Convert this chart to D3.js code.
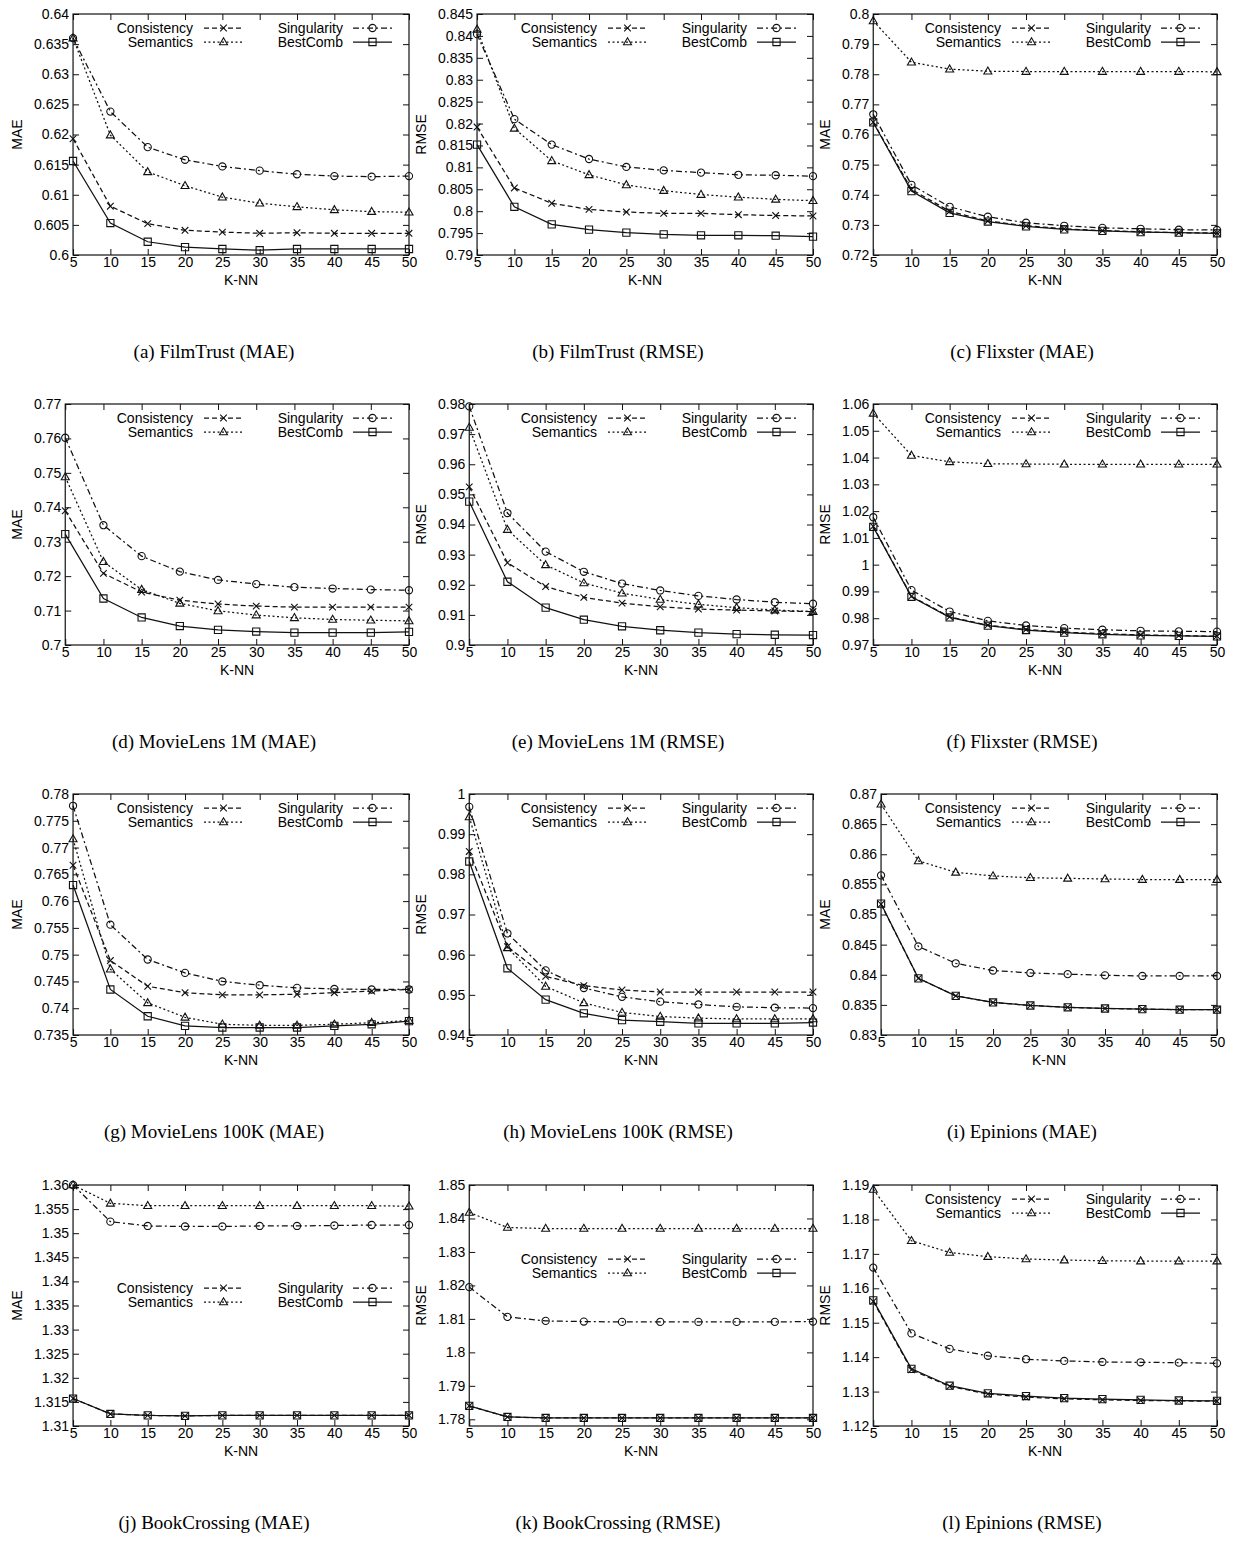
<!DOCTYPE html>
<html>
<head>
<meta charset="utf-8">
<script src="https://cdn.jsdelivr.net/npm/d3@7"></script>
<style>
    body { margin: 0; background: #fff; }
    svg text { font-family: "Liberation Sans", Arial, Helvetica, sans-serif; fill: #000; }
    svg text.caption { font-family: "Liberation Serif", "Times New Roman", serif; }
</style>
</head>
<body>
<div id="chart"></div>
<script>
var kValues = [5, 10, 15, 20, 25, 30, 35, 40, 45, 50];
var seriesNames = ['Consistency', 'Semantics', 'Singularity', 'BestComb'];

// rows: Consistency, Semantics, Singularity, BestComb
var filmTrustMAE = [
    [0.6193, 0.6081, 0.6052, 0.6041, 0.6038, 0.6036, 0.6037, 0.6036, 0.6036, 0.6036],
    [0.636, 0.6199, 0.6138, 0.6115, 0.6096, 0.6086, 0.608, 0.6075, 0.6072, 0.6071],
    [0.636, 0.6238, 0.6179, 0.6158, 0.6147, 0.614, 0.6134, 0.6131, 0.613, 0.6131],
    [0.6156, 0.6053, 0.6022, 0.6013, 0.601, 0.6008, 0.601, 0.601, 0.601, 0.601]
];
var filmTrustRMSE = [
    [0.8192, 0.8053, 0.8018, 0.8004, 0.7998, 0.7995, 0.7995, 0.7992, 0.799, 0.7989],
    [0.8415, 0.8189, 0.8115, 0.8083, 0.806, 0.8047, 0.8038, 0.8032, 0.8027, 0.8024],
    [0.8404, 0.821, 0.8152, 0.8119, 0.8101, 0.8093, 0.8088, 0.8083, 0.8082, 0.808],
    [0.8152, 0.801, 0.797, 0.7958, 0.7951, 0.7947, 0.7945, 0.7945, 0.7944, 0.7942]
];
var flixsterMAE = [
    [0.7641, 0.7418, 0.7345, 0.7313, 0.7297, 0.7287, 0.7281, 0.7277, 0.7274, 0.7273],
    [0.7977, 0.784, 0.7817, 0.781, 0.7809, 0.7809, 0.7809, 0.7809, 0.7809, 0.7808],
    [0.7667, 0.7433, 0.736, 0.7327, 0.7307, 0.7297, 0.729, 0.7287, 0.7284, 0.7283],
    [0.764, 0.7412, 0.734, 0.7311, 0.7295, 0.7285, 0.728, 0.7276, 0.7274, 0.7272]
];
var movieLens1mMAE = [
    [0.739, 0.7208, 0.7154, 0.713, 0.7119, 0.7113, 0.711, 0.711, 0.711, 0.711],
    [0.7488, 0.7242, 0.7161, 0.7121, 0.7099, 0.7087, 0.7079, 0.7074, 0.7072, 0.707],
    [0.7602, 0.7348, 0.7258, 0.7213, 0.7189, 0.7177, 0.7168, 0.7164, 0.7161, 0.7159],
    [0.7322, 0.7135, 0.708, 0.7055, 0.7044, 0.7039, 0.7036, 0.7036, 0.7036, 0.7038]
];
var movieLens1mRMSE = [
    [0.9525, 0.9273, 0.9194, 0.9158, 0.9139, 0.9127, 0.9119, 0.9116, 0.9113, 0.9111],
    [0.9722, 0.9383, 0.9266, 0.9206, 0.9172, 0.9151, 0.9135, 0.9124, 0.9116, 0.9111],
    [0.9792, 0.9438, 0.931, 0.9243, 0.9204, 0.9181, 0.9163, 0.9151, 0.9142, 0.9137],
    [0.9476, 0.921, 0.9124, 0.9084, 0.9062, 0.9049, 0.9041, 0.9036, 0.9034, 0.9033]
];
var flixsterRMSE = [
    [1.0143, 0.9882, 0.9805, 0.9774, 0.9758, 0.9748, 0.9742, 0.9738, 0.9735, 0.9733],
    [1.0565, 1.0408, 1.0384, 1.0377, 1.0376, 1.0375, 1.0375, 1.0375, 1.0375, 1.0375],
    [1.0177, 0.9905, 0.9825, 0.979, 0.9773, 0.9763, 0.9757, 0.9753, 0.9751, 0.975],
    [1.0141, 0.988, 0.9803, 0.9772, 0.9756, 0.9746, 0.974, 0.9736, 0.9734, 0.9732]
];
var movieLens100kMAE = [
    [0.7667, 0.7489, 0.7441, 0.7429, 0.7425, 0.7425, 0.7426, 0.7429, 0.7432, 0.7435],
    [0.7716, 0.7473, 0.741, 0.7383, 0.737, 0.7368, 0.7368, 0.737, 0.7373, 0.7377],
    [0.7778, 0.7556, 0.7491, 0.7466, 0.745, 0.7443, 0.7438, 0.7436, 0.7435, 0.7435],
    [0.763, 0.7435, 0.7385, 0.7367, 0.7364, 0.7364, 0.7364, 0.7367, 0.737, 0.7376]
];
var movieLens100kRMSE = [
    [0.9857, 0.962, 0.9546, 0.9523, 0.9512, 0.9507, 0.9507, 0.9507, 0.9507, 0.9507],
    [0.9943, 0.9617, 0.9521, 0.948, 0.9456, 0.9446, 0.9442, 0.944, 0.944, 0.944],
    [0.9968, 0.9653, 0.9561, 0.9517, 0.9495, 0.9483, 0.9476, 0.947, 0.9468, 0.9467],
    [0.9832, 0.9566, 0.9488, 0.9454, 0.9437, 0.9433, 0.9429, 0.9429, 0.9429, 0.9431]
];
var epinionsMAE = [
    [0.8517, 0.8394, 0.8365, 0.8354, 0.8349, 0.8346, 0.8344, 0.8343, 0.8342, 0.8342],
    [0.8683, 0.8589, 0.857, 0.8564, 0.8561, 0.856, 0.8559, 0.8558, 0.8558, 0.8558],
    [0.8565, 0.8447, 0.8419, 0.8407, 0.8403, 0.8401, 0.8399, 0.8398, 0.8398, 0.8398],
    [0.8518, 0.8394, 0.8365, 0.8354, 0.8349, 0.8346, 0.8344, 0.8343, 0.8342, 0.8342]
];
var bookCrossingMAE = [
    [1.3157, 1.3125, 1.3122, 1.3121, 1.3122, 1.3122, 1.3122, 1.3122, 1.3122, 1.3122],
    [1.36, 1.3562, 1.3557, 1.3557, 1.3557, 1.3557, 1.3557, 1.3557, 1.3557, 1.3556],
    [1.36, 1.3524, 1.3515, 1.3514, 1.3514, 1.3515, 1.3515, 1.3516, 1.3517, 1.3517],
    [1.3157, 1.3125, 1.3122, 1.3121, 1.3122, 1.3122, 1.3122, 1.3122, 1.3122, 1.3122]
];
var bookCrossingRMSE = [
    [1.784, 1.7807, 1.7804, 1.7804, 1.7804, 1.7804, 1.7804, 1.7804, 1.7804, 1.7804],
    [1.8418, 1.8373, 1.837, 1.837, 1.837, 1.837, 1.837, 1.837, 1.837, 1.837],
    [1.8195, 1.8106, 1.8094, 1.8092, 1.8091, 1.8091, 1.8091, 1.8091, 1.8091, 1.8092],
    [1.784, 1.7807, 1.7804, 1.7804, 1.7804, 1.7804, 1.7804, 1.7804, 1.7804, 1.7804]
];
var epinionsRMSE = [
    [1.1562, 1.1363, 1.1315, 1.1293, 1.1284, 1.1279, 1.1276, 1.1274, 1.1273, 1.1272],
    [1.1887, 1.1738, 1.1704, 1.1692, 1.1685, 1.1682, 1.168, 1.1679, 1.1679, 1.1679],
    [1.166, 1.1469, 1.1424, 1.1404, 1.1394, 1.1389, 1.1386, 1.1385, 1.1384, 1.1382],
    [1.1565, 1.1366, 1.1317, 1.1295, 1.1287, 1.1281, 1.1278, 1.1276, 1.1274, 1.1273]
];

var panelData = [filmTrustMAE, filmTrustRMSE, flixsterMAE,
    movieLens1mMAE, movieLens1mRMSE, flixsterRMSE,
    movieLens100kMAE, movieLens100kRMSE, epinionsMAE,
    bookCrossingMAE, bookCrossingRMSE, epinionsRMSE];

var panelCaptions = ['(a) FilmTrust (MAE)', '(b) FilmTrust (RMSE)', '(c) Flixster (MAE)',
    '(d) MovieLens 1M (MAE)', '(e) MovieLens 1M (RMSE)', '(f) Flixster (RMSE)',
    '(g) MovieLens 100K (MAE)', '(h) MovieLens 100K (RMSE)', '(i) Epinions (MAE)',
    '(j) BookCrossing (MAE)', '(k) BookCrossing (RMSE)', '(l) Epinions (RMSE)'];

var panelYLabels = ['MAE', 'RMSE', 'MAE', 'MAE', 'RMSE', 'RMSE', 'MAE', 'RMSE', 'MAE', 'MAE', 'RMSE', 'RMSE'];

var panelYDomains = [[0.6, 0.64], [0.79, 0.845], [0.72, 0.8], [0.7, 0.77], [0.9, 0.98], [0.97, 1.06],
    [0.735, 0.78], [0.94, 1], [0.83, 0.87], [1.31, 1.36], [1.778, 1.85], [1.12, 1.19]];

var panelYTicks = [
    [0.6, 0.605, 0.61, 0.615, 0.62, 0.625, 0.63, 0.635, 0.64],
    [0.79, 0.795, 0.8, 0.805, 0.81, 0.815, 0.82, 0.825, 0.83, 0.835, 0.84, 0.845],
    [0.72, 0.73, 0.74, 0.75, 0.76, 0.77, 0.78, 0.79, 0.8],
    [0.7, 0.71, 0.72, 0.73, 0.74, 0.75, 0.76, 0.77],
    [0.9, 0.91, 0.92, 0.93, 0.94, 0.95, 0.96, 0.97, 0.98],
    [0.97, 0.98, 0.99, 1, 1.01, 1.02, 1.03, 1.04, 1.05, 1.06],
    [0.735, 0.74, 0.745, 0.75, 0.755, 0.76, 0.765, 0.77, 0.775, 0.78],
    [0.94, 0.95, 0.96, 0.97, 0.98, 0.99, 1],
    [0.83, 0.835, 0.84, 0.845, 0.85, 0.855, 0.86, 0.865, 0.87],
    [1.31, 1.315, 1.32, 1.325, 1.33, 1.335, 1.34, 1.345, 1.35, 1.355, 1.36],
    [1.78, 1.79, 1.8, 1.81, 1.82, 1.83, 1.84, 1.85],
    [1.12, 1.13, 1.14, 1.15, 1.16, 1.17, 1.18, 1.19]
];

// ---- layout / style ----
var colX = [0, 404, 808];
var rowY = [14, 404, 794, 1185];
var plotH = 241;
var fontSize = 14;
var legendTopOffset = [14, 14, 14, 14, 14, 14, 14, 14, 14, 103, 74, 14];
var dashes = ['5,3', '2,2.5', '6,3,2,3', null];
var markers = ['times', 'triangle', 'circle', 'square'];
var ink = '#111';

var markerPath = function (type, cx, cy) {
    var r = 3.6;
    if (type === 'times') {
        var s = 3.3;
        return 'M' + (cx - s) + ',' + (cy - s) + 'L' + (cx + s) + ',' + (cy + s) +
            'M' + (cx - s) + ',' + (cy + s) + 'L' + (cx + s) + ',' + (cy - s);
    }
    if (type === 'triangle') {
        return 'M' + cx + ',' + (cy - 4.2) + 'L' + (cx + 4) + ',' + (cy + 2.8) +
            'L' + (cx - 4) + ',' + (cy + 2.8) + 'Z';
    }
    if (type === 'square') {
        return 'M' + (cx - r) + ',' + (cy - r) + 'h' + (2 * r) + 'v' + (2 * r) + 'h' + (-2 * r) + 'Z';
    }
    return 'M' + (cx + r) + ',' + cy + 'A' + r + ',' + r + ' 0 1,1 ' + (cx - r) + ',' + cy +
        'A' + r + ',' + r + ' 0 1,1 ' + (cx + r) + ',' + cy + 'Z';
};

var fmt = function (v) { return String(+v.toFixed(3)); };

var svg = d3.select('#chart').append('svg')
    .attr('width', 1236)
    .attr('height', 1545);

panelData.forEach(function (series, i) {
    var col = i % 3, row = Math.floor(i / 3);
    var ox = colX[col], top = rowY[row], bottom = top + plotH;
    var right = ox + 409;

    // measure widest tick label so the axis sits where gnuplot would put it
    var probe = svg.append('text').attr('font-size', fontSize);
    var maxW = 0;
    panelYTicks[i].forEach(function (t) {
        probe.text(fmt(t));
        maxW = Math.max(maxW, probe.node().getComputedTextLength());
    });
    probe.remove();
    var left = ox + 38 + maxW;

    var x = d3.scaleLinear().domain([5, 50]).range([left, right]);
    var y = d3.scaleLinear().domain(panelYDomains[i]).range([bottom, top]);

    var g = svg.append('g');

    var styleAxis = function (sel) {
        sel.select('.domain').remove();
        sel.attr('font-size', fontSize).attr('font-family', null);
        sel.selectAll('line').attr('stroke', ink);
    };

    g.append('g').attr('transform', 'translate(' + left + ',0)')
        .call(d3.axisLeft(y).tickValues(panelYTicks[i]).tickFormat(fmt).tickSize(-6).tickPadding(4))
        .call(styleAxis);
    g.append('g').attr('transform', 'translate(' + right + ',0)')
        .call(d3.axisRight(y).tickValues(panelYTicks[i]).tickFormat('').tickSize(-6))
        .call(styleAxis);
    g.append('g').attr('transform', 'translate(0,' + bottom + ')')
        .call(d3.axisBottom(x).tickValues(kValues).tickFormat(d3.format('d')).tickSize(-6).tickPadding(2))
        .call(styleAxis);
    g.append('g').attr('transform', 'translate(0,' + top + ')')
        .call(d3.axisTop(x).tickValues(kValues).tickFormat('').tickSize(-6))
        .call(styleAxis);

    g.append('rect')
        .attr('x', left).attr('y', top)
        .attr('width', right - left).attr('height', plotH)
        .attr('fill', 'none').attr('stroke', ink).attr('stroke-width', 1.2);

    g.append('text')
        .attr('x', (left + right) / 2).attr('y', bottom + 30)
        .attr('text-anchor', 'middle').attr('font-size', fontSize)
        .text('K-NN');

    g.append('text')
        .attr('transform', 'translate(' + (ox + 22) + ',' + (top + plotH / 2) + ') rotate(-90)')
        .attr('text-anchor', 'middle').attr('font-size', fontSize)
        .text(panelYLabels[i]);

    var line = d3.line()
        .x(function (d, j) { return x(kValues[j]); })
        .y(function (d) { return y(d); });

    series.forEach(function (vals, s) {
        g.append('path')
            .attr('d', line(vals))
            .attr('fill', 'none')
            .attr('stroke', ink)
            .attr('stroke-width', 1.25)
            .attr('stroke-dasharray', dashes[s]);
        g.selectAll(null)
            .data(vals)
            .enter()
            .append('path')
            .attr('d', function (d, j) { return markerPath(markers[s], x(kValues[j]), y(d)); })
            .attr('fill', 'none')
            .attr('stroke', ink)
            .attr('stroke-width', 1.1);
    });

    // legend, two columns
    seriesNames.forEach(function (name, s) {
        var c = s < 2 ? 0 : 1;
        var ly = top + legendTopOffset[i] + (s % 2) * 14;
        var textEnd = right - (c === 0 ? 216 : 66);
        var x1 = right - (c === 0 ? 205 : 56);
        var x2 = right - (c === 0 ? 166 : 17);

        g.append('text')
            .attr('x', textEnd).attr('y', ly).attr('dy', '0.35em')
            .attr('text-anchor', 'end').attr('font-size', fontSize)
            .text(name);
        g.append('line')
            .attr('x1', x1).attr('x2', x2).attr('y1', ly).attr('y2', ly)
            .attr('stroke', ink).attr('stroke-width', 1.25)
            .attr('stroke-dasharray', dashes[s]);
        g.append('path')
            .attr('d', markerPath(markers[s], (x1 + x2) / 2, ly))
            .attr('fill', 'none').attr('stroke', ink).attr('stroke-width', 1.1);
    });

    svg.append('text')
        .attr('class', 'caption')
        .attr('x', ox + 214).attr('y', top + 344)
        .attr('text-anchor', 'middle').attr('font-size', 19)
        .text(panelCaptions[i]);
});
</script>
</body>
</html>
